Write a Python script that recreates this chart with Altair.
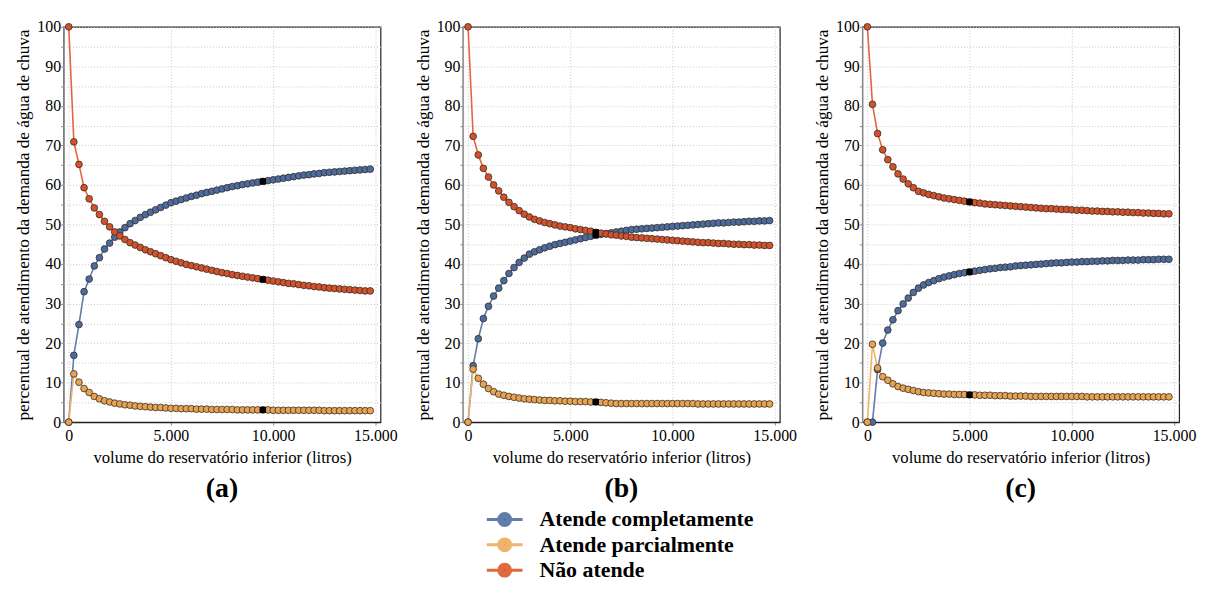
import altair as alt
import pandas as pd

VOLUMES = list(range(0, 15000, 250))
SERIES = ["Atende completamente", "Atende parcialmente", "Não atende"]
PANELS = ["(a)", "(b)", "(c)"]
HIGHLIGHT = [9500, 6250, 5000]

A_COMPLETO = [0, 16.9, 24.7, 33.0, 36.2, 39.5, 41.6, 43.8, 45.3, 46.8,
              48.1, 49.2, 50.2, 51.0, 51.8, 52.5, 53.1, 53.7, 54.3, 54.9,
              55.5, 55.9, 56.3, 56.7, 57.1, 57.4, 57.8, 58.1, 58.4, 58.7,
              59.0, 59.3, 59.6, 59.8, 60.1, 60.3, 60.5, 60.7, 60.9, 61.1,
              61.3, 61.5, 61.7, 61.9, 62.1, 62.3, 62.5, 62.6, 62.8, 62.9,
              63.1, 63.2, 63.3, 63.4, 63.5, 63.6, 63.7, 63.8, 63.9, 64.0]
A_PARCIAL = [0, 12.2, 10.1, 8.5, 7.5, 6.5, 5.9, 5.4, 5.1, 4.8,
             4.6, 4.4, 4.3, 4.1, 4.0, 3.9, 3.8, 3.7, 3.7, 3.6,
             3.5, 3.5, 3.4, 3.4, 3.4, 3.3, 3.3, 3.3, 3.2, 3.2,
             3.2, 3.2, 3.2, 3.1, 3.1, 3.1, 3.1, 3.1, 3.1, 3.1,
             3.0, 3.0, 3.0, 3.0, 3.0, 3.0, 3.0, 3.0, 3.0, 3.0,
             2.9, 2.9, 2.9, 2.9, 2.9, 2.9, 2.9, 2.9, 2.9, 2.9]
A_NAO = [100, 70.9, 65.2, 59.3, 56.5, 54.2, 52.5, 50.8, 49.4, 48.1,
         47.1, 46.2, 45.4, 44.8, 44.2, 43.6, 43.1, 42.6, 42.1, 41.6,
         41.1, 40.7, 40.3, 39.9, 39.6, 39.3, 39.0, 38.7, 38.4, 38.1,
         37.8, 37.6, 37.3, 37.1, 36.9, 36.7, 36.5, 36.3, 36.1, 35.9,
         35.7, 35.5, 35.3, 35.1, 35.0, 34.8, 34.6, 34.5, 34.3, 34.2,
         34.0, 33.9, 33.8, 33.7, 33.6, 33.5, 33.4, 33.3, 33.2, 33.2]

B_COMPLETO = [0, 14.3, 21.1, 26.2, 29.3, 31.9, 33.9, 35.8, 37.6, 39.1,
              40.4, 41.5, 42.5, 43.1, 43.6, 44.1, 44.5, 44.9, 45.2, 45.5,
              45.8, 46.1, 46.4, 46.7, 47.0, 47.3, 47.5, 47.7, 47.9, 48.1,
              48.3, 48.5, 48.7, 48.8, 48.9, 49.0, 49.1, 49.2, 49.3, 49.4,
              49.5, 49.6, 49.7, 49.8, 49.9, 50.0, 50.1, 50.2, 50.3, 50.4,
              50.4, 50.5, 50.6, 50.6, 50.7, 50.8, 50.8, 50.9, 50.9, 51.0]
B_PARCIAL = [0, 13.4, 11.1, 9.6, 8.5, 7.7, 7.1, 6.8, 6.5, 6.3,
             6.1, 5.9, 5.8, 5.7, 5.6, 5.5, 5.5, 5.4, 5.4, 5.3,
             5.3, 5.2, 5.2, 5.2, 5.1, 5.1, 5.0, 4.9, 4.8, 4.7,
             4.7, 4.7, 4.7, 4.7, 4.7, 4.7, 4.7, 4.7, 4.7, 4.7,
             4.7, 4.7, 4.7, 4.7, 4.7, 4.6, 4.6, 4.6, 4.6, 4.6,
             4.6, 4.6, 4.6, 4.6, 4.6, 4.6, 4.6, 4.6, 4.6, 4.6]
B_NAO = [100, 72.3, 67.6, 64.2, 62.0, 60.0, 58.5, 56.9, 55.6, 54.5,
         53.5, 52.6, 51.9, 51.3, 50.9, 50.5, 50.2, 49.9, 49.6, 49.4,
         49.2, 48.9, 48.7, 48.5, 48.3, 48.0, 47.8, 47.6, 47.4, 47.3,
         47.1, 47.0, 46.8, 46.7, 46.6, 46.5, 46.4, 46.3, 46.2, 46.1,
         46.0, 45.9, 45.8, 45.7, 45.6, 45.5, 45.4, 45.4, 45.3, 45.2,
         45.2, 45.1, 45.0, 45.0, 44.9, 44.9, 44.8, 44.8, 44.7, 44.7]

C_COMPLETO = [0, 0, 13.3, 20.0, 23.3, 25.9, 28.2, 29.9, 31.4, 32.8,
              33.9, 34.7, 35.3, 35.8, 36.3, 36.7, 37.0, 37.3, 37.6, 37.8,
              38.0, 38.2, 38.4, 38.6, 38.8, 38.9, 39.1, 39.2, 39.3, 39.5,
              39.6, 39.7, 39.8, 39.9, 40.0, 40.1, 40.2, 40.3, 40.3, 40.4,
              40.5, 40.5, 40.6, 40.6, 40.7, 40.7, 40.8, 40.8, 40.9, 40.9,
              40.9, 41.0, 41.0, 41.0, 41.1, 41.1, 41.1, 41.2, 41.2, 41.2]
C_PARCIAL = [0, 19.7, 13.7, 11.5, 10.6, 9.7, 9.0, 8.6, 8.3, 8.0,
             7.7, 7.5, 7.4, 7.3, 7.2, 7.1, 7.1, 7.0, 7.0, 7.0,
             6.9, 6.9, 6.8, 6.8, 6.8, 6.7, 6.7, 6.7, 6.6, 6.6,
             6.6, 6.6, 6.5, 6.5, 6.5, 6.5, 6.5, 6.5, 6.5, 6.5,
             6.5, 6.5, 6.5, 6.4, 6.4, 6.4, 6.4, 6.4, 6.4, 6.4,
             6.4, 6.4, 6.4, 6.4, 6.4, 6.4, 6.4, 6.4, 6.4, 6.4]
C_NAO = [100, 80.4, 73.0, 68.9, 66.4, 64.6, 62.8, 61.5, 60.3, 59.3,
         58.4, 58.0, 57.6, 57.3, 57.0, 56.7, 56.5, 56.3, 56.1, 55.9,
         55.7, 55.5, 55.4, 55.2, 55.1, 55.0, 54.9, 54.8, 54.7, 54.6,
         54.5, 54.4, 54.3, 54.2, 54.1, 54.0, 54.0, 53.9, 53.8, 53.8,
         53.7, 53.6, 53.6, 53.5, 53.4, 53.4, 53.3, 53.3, 53.2, 53.2,
         53.1, 53.1, 53.0, 53.0, 52.9, 52.9, 52.8, 52.8, 52.7, 52.7]

DATA = {
    "(a)": [A_COMPLETO, A_PARCIAL, A_NAO],
    "(b)": [B_COMPLETO, B_PARCIAL, B_NAO],
    "(c)": [C_COMPLETO, C_PARCIAL, C_NAO],
}

LINE_COLORS = ["#5f7ea9", "#f0b36c", "#e0683d"]
POINT_COLORS = ["#4a6c9f", "#e6a352", "#d1522c"]
FONT = "Liberation Serif, Times New Roman, serif"

rows = []
for p, hl in zip(PANELS, HIGHLIGHT):
    for s, vals in zip(SERIES, DATA[p]):
        for v, y in zip(VOLUMES, vals):
            rows.append({"painel": p, "volume": v, "serie": s, "valor": y,
                         "destaque": v == hl})
df = pd.DataFrame(rows)

LEGEND_PATH = ("M-3,0L-1,0M1,0L3,0"
               "M-1,0A1,1,0,1,1,1,0A1,1,0,1,1,-1,0"
               "M-0.5,0A0.5,0.5,0,1,1,0.5,0A0.5,0.5,0,1,1,-0.5,0"
               "M-0.1,0A0.1,0.1,0,1,1,0.1,0A0.1,0.1,0,1,1,-0.1,0")


def panel(p):
    base = alt.Chart(df[df["painel"] == p])
    x = alt.X("volume:Q",
              scale=alt.Scale(domain=[-250, 15250], nice=False, zero=False),
              axis=alt.Axis(values=[0, 5000, 10000, 15000],
                            labelExpr="replace(format(datum.value, ','), ',', '.')",
                            labelFont=FONT, titleFont=FONT,
                            title="volume do reservatório inferior (litros)"))
    y = alt.Y("valor:Q",
              scale=alt.Scale(domain=[0, 100], nice=False),
              axis=alt.Axis(values=list(range(0, 101, 5)),
                            labelExpr="datum.value % 10 == 0 ? datum.label : ''",
                            labelFont=FONT, titleFont=FONT,
                            title="percentual de atendimento da demanda de água de chuva"))
    lines = base.mark_line(strokeWidth=1.6).encode(
        x=x, y=y,
        color=alt.Color("serie:N",
                        scale=alt.Scale(domain=SERIES, range=LINE_COLORS),
                        legend=alt.Legend(title=None, orient="none",
                                          legendX=433, legendY=485,
                                          direction="vertical",
                                          labelFont=FONT, labelFontSize=22,
                                          labelFontWeight="bold",
                                          labelColor="black",
                                          labelLimit=0,
                                          symbolType=LEGEND_PATH,
                                          symbolSize=144,
                                          symbolStrokeWidth=3,
                                          labelOffset=24,
                                          rowPadding=1.5)),
        detail="serie:N")
    points = base.mark_circle(size=46, opacity=1, stroke="#3a2d25",
                              strokeWidth=0.8).encode(
        x=x, y=y,
        fill=alt.Fill("serie:N",
                      scale=alt.Scale(domain=SERIES, range=POINT_COLORS),
                      legend=None))
    marks = base.transform_filter(alt.datum.destaque).mark_square(
        size=40, color="black", opacity=1).encode(x=x, y=y)
    return alt.layer(lines, points, marks).properties(
        width=319, height=398,
        title=alt.TitleParams(p, orient="bottom", anchor="middle",
                              font=FONT, fontSize=28, fontWeight="bold",
                              color="black", offset=9))


chart = alt.hconcat(*[panel(p) for p in PANELS], spacing=15).properties(
    padding={"left": 6, "top": 8, "right": 0, "bottom": 0}
).configure_view(
    stroke="#222", strokeWidth=1.2
).configure_axis(
    labelFont=FONT, titleFont=FONT, labelFontSize=16,
    labelColor="black", titleColor="black", titleFontWeight="normal",
    gridColor="#c8c8c8", gridDash=[1, 2], gridWidth=1,
    tickColor="#888", tickSize=3
).configure_axisX(
    domainColor="#222", domainWidth=1.2, labelPadding=2,
    titleFontSize=16.8, titlePadding=7
).configure_axisY(
    domainColor="#999", domainWidth=1.2, labelPadding=0,
    titleFontSize=17.3, titlePadding=4
).configure_text(font=FONT)

chart.save("out.html", embed_options={"renderer": "svg", "actions": False})
